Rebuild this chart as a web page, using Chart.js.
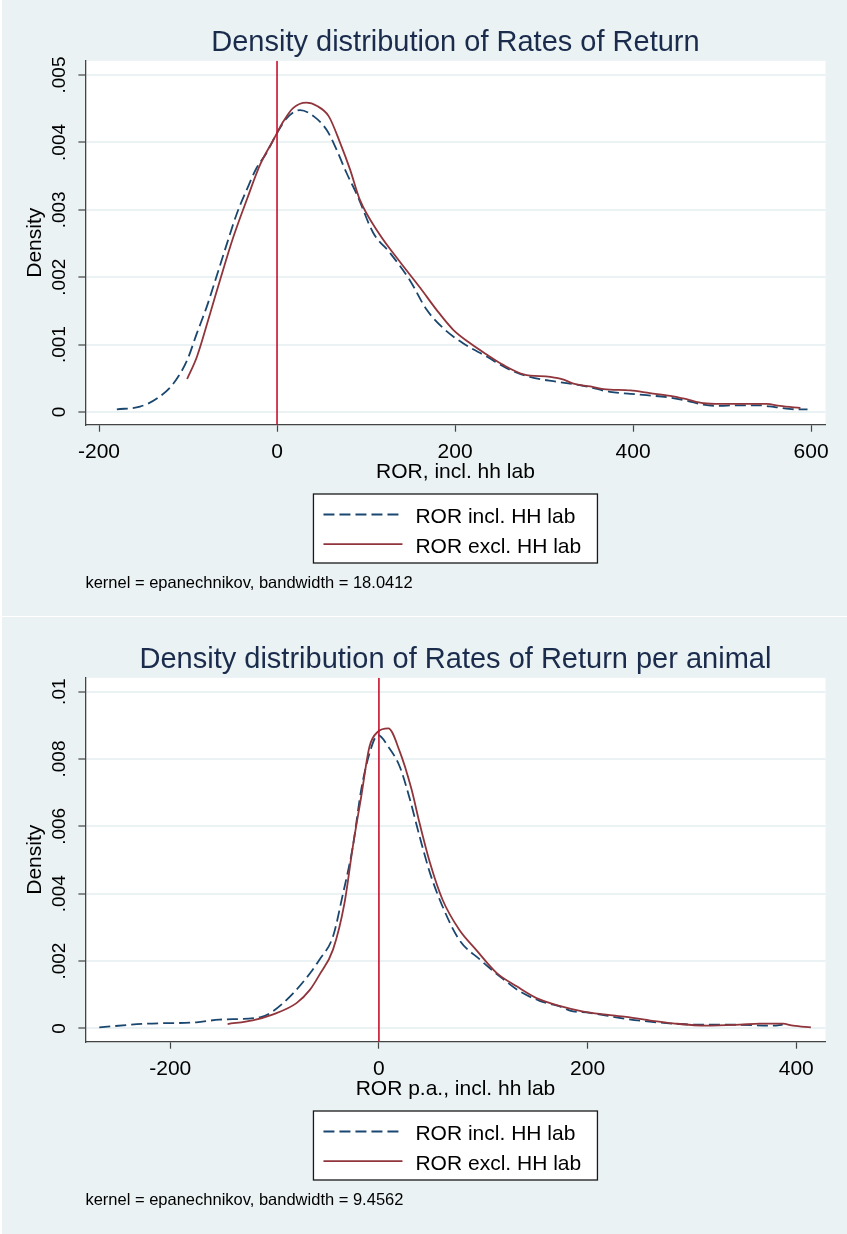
<!DOCTYPE html>
<html>
<head>
<meta charset="utf-8">
<script src="https://cdn.jsdelivr.net/npm/chart.js@4"></script>
<style>
  body { margin: 0; background: #fff; width: 847px; height: 1234px; position: relative; overflow: hidden; }
  .panel { position: absolute; left: 2px; width: 845px; background: #eaf2f3; }
  canvas { display: block; }
</style>
</head>
<body>
<div class="panel" style="top:0;height:616px"><canvas id="c1" width="845" height="616"></canvas></div>
<div class="panel" style="top:617px;height:617px"><canvas id="c2" width="845" height="617"></canvas></div>
<script>
const FONT = "'Liberation Sans', Arial, sans-serif";
const NAVY = '#1a476f', MAROON = '#90353b', XLINE = '#c8102e';

const seriesLabels = ['ROR incl. HH lab', 'ROR excl. HH lab'];

// panel 1: ROR, incl. hh lab
const rorInclX = [-180,-154,-135,-116,-101,-90,-79,-68,-56,-45,-34,-23,-12,0,11,26,41,56,67,78,90,108,127,149,168,187,209,236,258,284,314,340,374,397,415,438,460,479,498,513,540,561,584,596];
const rorInclY = [.00004,.00008,.0002,.00043,.00077,.00117,.00156,.00201,.00251,.00295,.0033,.00362,.00384,.00414,.00436,.00448,.00439,.00418,.00389,.00355,.00322,.00266,.00236,.00196,.00152,.00124,.00102,.00082,.00065,.00052,.00045,.0004,.0003,.00027,.00025,.00022,.00017,.00011,.00009,.0001,.0001,.00007,.00004,.00004];
const rorExclX = [-101,-90,-75,-64,-49,-34,-19,-4,7,18,33,45,58,71,82,93,114,138,161,179,198,217,236,254,277,307,322,333,352,367,397,419,442,460,479,498,550,565,588];
const rorExclY = [.00049,.00082,.00147,.00196,.0026,.00315,.00367,.00404,.00431,.00451,.00459,.00454,.00439,.00399,.0036,.00315,.00266,.00223,.00184,.00152,.00122,.00102,.00085,.0007,.00056,.00052,.00048,.00042,.00038,.00034,.00032,.00028,.00024,.00019,.00013,.00012,.00012,.00009,.00006];
const rorTicksX = [-200, 0, 200, 400, 600];
const rorTicksY = [0, .001, .002, .003, .004, .005];
const rorTickLabelsY = ['0', '.001', '.002', '.003', '.004', '.005'];

// panel 2: ROR p.a., incl. hh lab
const paInclX = [-268,-223,-175,-153,-114,-102,-82,-66,-57,-44,-35,-25,-17,-9,-1,10,20,29,39,49,61,77,97,116,135,154,164,172,183,202,237,253,288,304,336,378,387];
const paInclY = [.00003,.00014,.00018,.00026,.00033,.0005,.00105,.00164,.00204,.00273,.00392,.0054,.00708,.00817,.00871,.00832,.00777,.00688,.0057,.00461,.00362,.00263,.00204,.00154,.0011,.00082,.00073,.00067,.00053,.00046,.00028,.00022,.00013,.00011,.00011,.00008,.00011];
const paExclX = [-145,-121,-102,-79,-66,-57,-44,-33,-25,-17,-9,-1,9,20,31,39,49,61,77,93,113,132,151,173,196,218,237,259,282,314,346,365,387,397,414];
const paExclY = [.00013,.00024,.00041,.00075,.00115,.00159,.00234,.00372,.0054,.00688,.00837,.00881,.00891,.00822,.00713,.00609,.00491,.00382,.00293,.00234,.00164,.00125,.0009,.00067,.0005,.00041,.00034,.00024,.00015,.00008,.00011,.00014,.00014,.00008,.00003];
const paTicksX = [-200, 0, 200, 400];
const paTicksY = [0, .002, .004, .006, .008, .01];
const paTickLabelsY = ['0', '.002', '.004', '.006', '.008', '.01'];

function pts(xs, ys) { return xs.map((x, i) => ({ x, y: ys[i] })); }

// white plot region
const plotBg = {
  id: 'plotBg',
  beforeDraw(chart) {
    const { ctx, chartArea: a } = chart;
    ctx.save();
    ctx.fillStyle = '#fff';
    ctx.fillRect(a.left, a.top, a.right - a.left, a.bottom - a.top);
    ctx.restore();
  }
};

// stata style boxed legend, one entry per row
const boxLegend = {
  id: 'boxLegend',
  afterDraw(chart) {
    const { ctx, chartArea: a } = chart;
    const w = 284, h = 69;
    const left = (a.left + a.right) / 2 - w / 2, top = a.bottom + 69.3;
    ctx.save();
    ctx.fillStyle = '#fff';
    ctx.fillRect(left, top, w, h);
    ctx.strokeStyle = '#1a1a1a';
    ctx.lineWidth = 1.3;
    ctx.strokeRect(left, top, w, h);
    ctx.font = '21px ' + FONT;
    ctx.textBaseline = 'alphabetic';
    const items = chart.data.datasets.filter(d => d.legendPos != null).sort((p, q) => p.legendPos - q.legendPos);
    items.forEach((d, i) => {
      const cy = top + 20.5 + i * 29.7;
      ctx.beginPath();
      ctx.setLineDash(d.borderDash || []);
      ctx.strokeStyle = d.borderColor;
      ctx.lineWidth = d.borderWidth;
      ctx.moveTo(left + 10, cy);
      ctx.lineTo(left + 89, cy);
      ctx.stroke();
      ctx.setLineDash([]);
      ctx.fillStyle = '#000';
      ctx.fillText(d.label, left + 102, top + 29.3 + i * 29.4);
    });
    ctx.restore();
  }
};

function densityChart(id, cfg) {
  const canvas = document.getElementById(id);
  return new Chart(canvas, {
    type: 'scatter',
    data: {
      datasets: [
        { label: 'x = 0', data: [{ x: 0, y: cfg.yMin }, { x: 0, y: cfg.yMax }], borderColor: XLINE, borderWidth: 1.6, showLine: true, pointRadius: 0 },
        { label: seriesLabels[1], legendPos: 1, data: pts(cfg.exclX, cfg.exclY), borderColor: MAROON, borderWidth: 1.8, showLine: true, pointRadius: 0, cubicInterpolationMode: 'monotone' },
        { label: seriesLabels[0], legendPos: 0, data: pts(cfg.inclX, cfg.inclY), borderColor: NAVY, borderWidth: 1.8, borderDash: [11, 5], showLine: true, pointRadius: 0, cubicInterpolationMode: 'monotone' }
      ]
    },
    options: {
      responsive: false,
      animation: false,
      devicePixelRatio: 1,
      events: [],
      layout: { padding: { left: 0, right: 21.5, top: 0, bottom: 0 } },
      plugins: {
        legend: { display: false },
        tooltip: { enabled: false },
        title: {
          display: true, text: cfg.title, fullSize: false, color: '#1a2b4c',
          font: { family: FONT, size: 29, weight: 'normal' }, padding: { top: 26, bottom: 0 }
        },
        subtitle: {
          display: true, text: cfg.note, position: 'bottom', align: 'start', fullSize: false, color: '#000',
          font: { family: FONT, size: 16.5, weight: 'normal' }, padding: { top: 86.9, bottom: cfg.noteBottom }
        }
      },
      scales: {
        x: {
          type: 'linear', min: cfg.xMin, max: cfg.xMax,
          afterBuildTicks: s => { s.ticks = cfg.ticksX.map(v => ({ value: v })); },
          afterFit: s => { s.height = 62.1; },
          grid: { drawOnChartArea: false, drawTicks: true, tickLength: 7, tickColor: '#444', tickWidth: 1.2 },
          border: { display: true, color: '#444', width: 1.3 },
          ticks: { autoSkip: false, minRotation: 0, maxRotation: 0, padding: 7.5, color: '#000', font: { family: FONT, size: 21 }, callback: v => String(v) },
          title: { display: true, text: cfg.xTitle, color: '#000', font: { family: FONT, size: 21 }, padding: { top: 0, bottom: 1.5 } }
        },
        y: {
          type: 'linear', min: cfg.yMin, max: cfg.yMax,
          afterBuildTicks: s => { s.ticks = cfg.ticksY.map(v => ({ value: v })); },
          afterFit: s => { s.width = 83.4; },
          grid: { color: '#eaf2f3', lineWidth: 2, drawTicks: true, tickLength: 7, tickColor: '#444', tickWidth: 1.2 },
          border: { display: true, color: '#444', width: 1.3 },
          ticks: { autoSkip: false, minRotation: 90, maxRotation: 90, crossAlign: 'center', padding: 0, color: '#000', font: { family: FONT, size: 19 }, callback: (v, i) => cfg.labelsY[i] },
          title: { display: true, text: 'Density', color: '#000', font: { family: FONT, size: 21 }, padding: { top: 20.4, bottom: 0 } }
        }
      }
    },
    plugins: [plotBg, boxLegend]
  });
}

densityChart('c1', {
  title: 'Density distribution of Rates of Return',
  xTitle: 'ROR, incl. hh lab',
  note: 'kernel = epanechnikov, bandwidth = 18.0412',
  noteBottom: 22.5,
  inclX: rorInclX, inclY: rorInclY, exclX: rorExclX, exclY: rorExclY,
  ticksX: rorTicksX, ticksY: rorTicksY, labelsY: rorTickLabelsY,
  xMin: -215.3, xMax: 616.2, yMin: -0.000188, yMax: 0.005211
});

densityChart('c2', {
  title: 'Density distribution of Rates of Return per animal',
  xTitle: 'ROR p.a., incl. hh lab',
  note: 'kernel = epanechnikov, bandwidth = 9.4562',
  noteBottom: 23.5,
  inclX: paInclX, inclY: paInclY, exclX: paExclX, exclY: paExclY,
  ticksX: paTicksX, ticksY: paTicksY, labelsY: paTickLabelsY,
  xMin: -281.3, xMax: 428.0, yMin: -0.000395, yMax: 0.010412
});
</script>
</body>
</html>
